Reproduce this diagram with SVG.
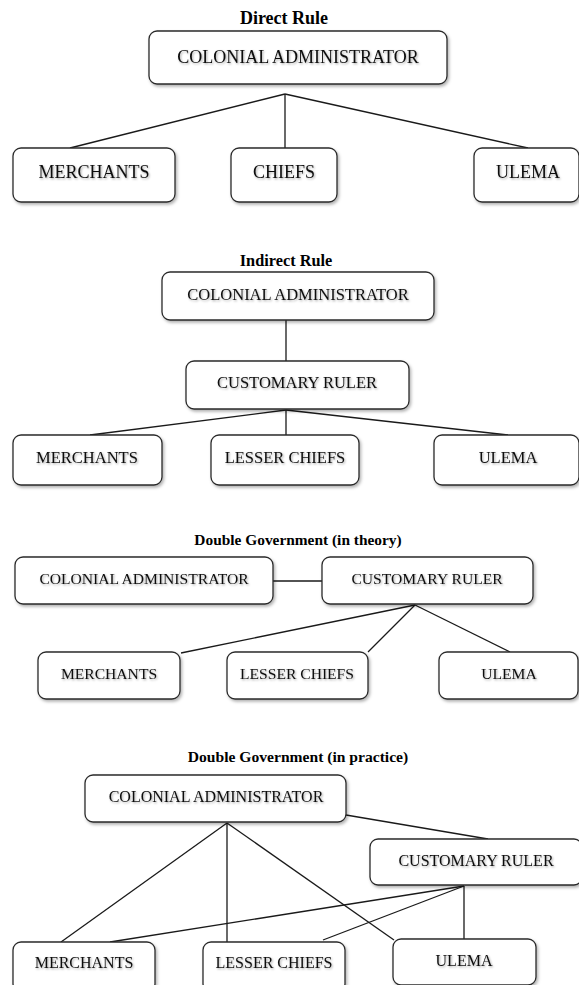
<svg xmlns="http://www.w3.org/2000/svg" width="579" height="985" viewBox="0 0 579 985">
<defs>
<filter id="bsh" x="-10%" y="-20%" width="125%" height="150%">
<feDropShadow dx="1.5" dy="2" stdDeviation="1.5" flood-color="#000" flood-opacity="0.3"/>
</filter>
<filter id="tsh" x="-5%" y="-30%" width="115%" height="170%">
<feDropShadow dx="1" dy="1.2" stdDeviation="0.9" flood-color="#000" flood-opacity="0.35"/>
</filter>
</defs>
<style>
.box{fill:#fff;stroke:#2a2a2a;stroke-width:1.3;filter:url(#bsh)}
.lbl{font-family:"Liberation Serif","Times New Roman",serif;fill:#111;text-anchor:middle;filter:url(#tsh)}
.s1{font-size:18px}
.s2{font-size:16.5px}
.s3{font-size:15.6px}
.s4{font-size:16px}
.ttl{font-family:"Liberation Serif","Times New Roman",serif;font-weight:bold;fill:#000;text-anchor:middle}
.con line,.con polyline{stroke:#1a1a1a;stroke-width:1.3;fill:none}
</style>
<rect width="579" height="985" fill="#fff"/>

<!-- Section titles -->
<text class="ttl" x="284" y="24" font-size="18">Direct Rule</text>
<text class="ttl" x="286" y="266" font-size="16.3">Indirect Rule</text>
<text class="ttl" x="298" y="545" font-size="15.4">Double Government (in theory)</text>
<text class="ttl" x="298" y="762" font-size="15.6">Double Government (in practice)</text>

<!-- Connectors -->
<g id="connectors" class="con">
<!-- Direct rule -->
<line x1="285" y1="94" x2="70" y2="148"/>
<line x1="285" y1="94" x2="285" y2="148"/>
<line x1="285" y1="94" x2="528" y2="148"/>
<!-- Indirect rule -->
<line x1="286" y1="320" x2="286" y2="361"/>
<line x1="286" y1="410" x2="90" y2="435"/>
<line x1="286" y1="410" x2="286" y2="436"/>
<line x1="286" y1="410" x2="508" y2="435"/>
<!-- Double theory -->
<line x1="273" y1="581" x2="322" y2="581"/>
<line x1="415" y1="605" x2="181" y2="653"/>
<line x1="415" y1="605" x2="368" y2="652"/>
<line x1="415" y1="605" x2="510" y2="652"/>
<!-- Double practice -->
<line x1="346" y1="815" x2="488" y2="839"/>
<line x1="227" y1="823" x2="61" y2="942"/>
<line x1="227" y1="823" x2="227" y2="942"/>
<line x1="227" y1="823" x2="394" y2="940"/>
<line x1="464" y1="886" x2="110" y2="942"/>
<line x1="464" y1="886" x2="323" y2="940"/>
<line x1="464" y1="886" x2="464" y2="939"/>
</g>

<!-- Direct Rule -->
<g id="dr-admin"><rect class="box" x="149" y="31" width="298" height="53" rx="8"/><text class="lbl s1" x="298" y="63">COLONIAL ADMINISTRATOR</text></g>
<g id="dr-merchants"><rect class="box" x="13" y="148" width="162" height="54" rx="8"/><text class="lbl s1" x="94" y="178">MERCHANTS</text></g>
<g id="dr-chiefs"><rect class="box" x="231" y="148" width="106" height="54" rx="8"/><text class="lbl s1" x="284" y="178">CHIEFS</text></g>
<g id="dr-ulema"><rect class="box" x="474" y="148" width="105" height="54" rx="8"/><text class="lbl s1" x="528" y="178">ULEMA</text></g>

<!-- Indirect Rule -->
<g id="ir-admin"><rect class="box" x="162" y="272" width="272" height="48" rx="8"/><text class="lbl s2" x="298" y="300">COLONIAL ADMINISTRATOR</text></g>
<g id="ir-ruler"><rect class="box" x="186" y="361" width="223" height="48" rx="8"/><text class="lbl s2" x="297" y="388">CUSTOMARY RULER</text></g>
<g id="ir-merchants"><rect class="box" x="13" y="435" width="149" height="50" rx="8"/><text class="lbl s2" x="87" y="463">MERCHANTS</text></g>
<g id="ir-lesser"><rect class="box" x="211" y="435" width="148" height="50" rx="8"/><text class="lbl s2" x="285" y="463">LESSER CHIEFS</text></g>
<g id="ir-ulema"><rect class="box" x="434" y="435" width="145" height="50" rx="8"/><text class="lbl s2" x="508" y="463">ULEMA</text></g>

<!-- Double Government (theory) -->
<g id="dt-admin"><rect class="box" x="15" y="557" width="258" height="47" rx="8"/><text class="lbl s3" x="144" y="584">COLONIAL ADMINISTRATOR</text></g>
<g id="dt-ruler"><rect class="box" x="322" y="557" width="211" height="47" rx="8"/><text class="lbl s3" x="427" y="584">CUSTOMARY RULER</text></g>
<g id="dt-merchants"><rect class="box" x="38" y="652" width="142" height="47" rx="8"/><text class="lbl s3" x="109" y="679">MERCHANTS</text></g>
<g id="dt-lesser"><rect class="box" x="227" y="652" width="141" height="47" rx="8"/><text class="lbl s3" x="297" y="679">LESSER CHIEFS</text></g>
<g id="dt-ulema"><rect class="box" x="439" y="652" width="139" height="47" rx="8"/><text class="lbl s3" x="509" y="679">ULEMA</text></g>

<!-- Double Government (practice) -->
<g id="dp-admin"><rect class="box" x="85" y="775" width="261" height="47" rx="8"/><text class="lbl s4" x="216" y="802">COLONIAL ADMINISTRATOR</text></g>
<g id="dp-ruler"><rect class="box" x="370" y="839" width="212" height="46" rx="8"/><text class="lbl s4" x="476" y="866">CUSTOMARY RULER</text></g>
<g id="dp-merchants"><rect class="box" x="13" y="942" width="142" height="50" rx="8"/><text class="lbl s4" x="84" y="968">MERCHANTS</text></g>
<g id="dp-lesser"><rect class="box" x="203" y="942" width="142" height="50" rx="8"/><text class="lbl s4" x="274" y="968">LESSER CHIEFS</text></g>
<g id="dp-ulema"><rect class="box" x="393" y="939" width="143" height="46" rx="8"/><text class="lbl s4" x="464" y="966">ULEMA</text></g>
</svg>
